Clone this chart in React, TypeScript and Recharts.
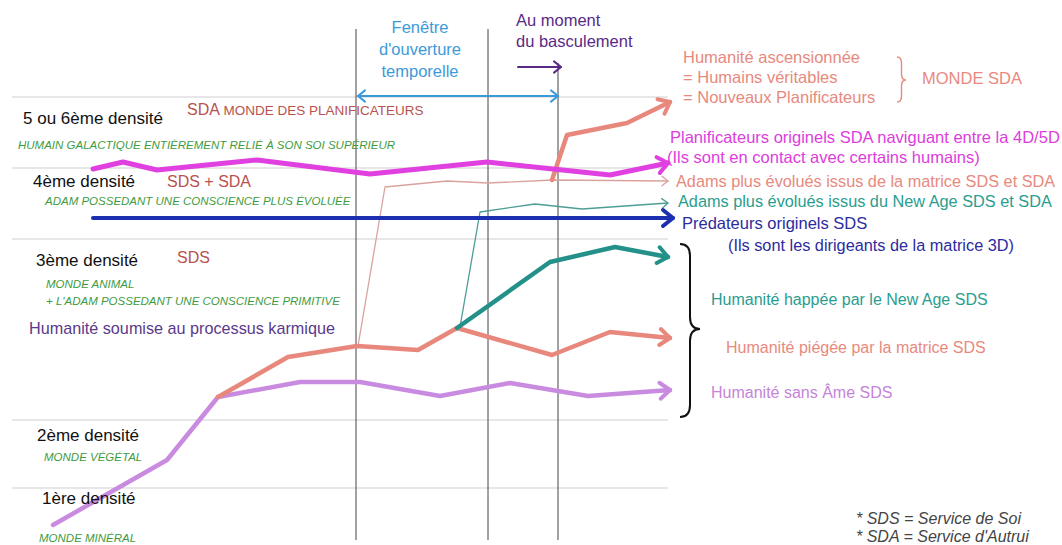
import { LineChart, Line, XAxis, YAxis, ReferenceLine } from 'recharts'

// horizontal axis: time (left -> right), vertical axis: level of consciousness (bottom -> top)
const humaniteSansAme = [
  { t: 53, n: 20 }, { t: 167, n: 85 }, { t: 218, n: 148 }, { t: 300, n: 163 }, { t: 360, n: 163 },
  { t: 440, n: 149 }, { t: 510, n: 162 }, { t: 588, n: 149 }, { t: 670, n: 155 },
]
const humanitePiegee = [
  { t: 218, n: 148 }, { t: 288, n: 188 }, { t: 357, n: 199 }, { t: 418, n: 195 }, { t: 457, n: 217 },
  { t: 552, n: 190 }, { t: 610, n: 213 }, { t: 670, n: 207 },
]
const humaniteNewAge = [
  { t: 457, n: 217 }, { t: 550, n: 283 }, { t: 615, n: 298 }, { t: 668, n: 288 },
]
const adamsNewAge = [
  { t: 460, n: 218 }, { t: 480, n: 333 }, { t: 535, n: 341 }, { t: 582, n: 336 }, { t: 668, n: 342 },
]
const adamsMatrice = [
  { t: 358, n: 199 }, { t: 385, n: 358 }, { t: 447, n: 364 }, { t: 488, n: 362 }, { t: 553, n: 365 }, { t: 668, n: 364 },
]
const humaniteAscensionnee = [
  { t: 552, n: 365 }, { t: 567, n: 410 }, { t: 627, n: 422 }, { t: 670, n: 443 },
]
const planificateurs = [
  { t: 93, n: 376 }, { t: 123, n: 383 }, { t: 157, n: 375 }, { t: 257, n: 385 }, { t: 370, n: 371 },
  { t: 487, n: 383 }, { t: 553, n: 376 }, { t: 610, n: 370 }, { t: 668, n: 382 },
]
const predateurs = [{ t: 93, n: 327 }, { t: 673, n: 327 }]

const fenetre = [{ t: 358, n: 449 }, { t: 558, n: 449 }]
const basculement = [{ t: 518, n: 478 }, { t: 561, n: 478 }]

// density boundaries and time markers
const densityLevels = [448, 377, 306, 125, 57]
const timeMarks = [356, 488]
const basculementT = 558

const FONT = '"Liberation Sans", Arial, Helvetica, sans-serif'

const arrows = [
  { id: 'a-violet', color: '#c98be0', w: 4, s: 1 },
  { id: 'a-salmon', color: '#e8877c', w: 4, s: 1 },
  { id: 'a-teal', color: '#23918a', w: 4, s: 1 },
  { id: 'a-magenta', color: '#e040e0', w: 4, s: 1 },
  { id: 'a-blue', color: '#1b2fb0', w: 4, s: 1 },
  { id: 'a-thinsalmon', color: '#d9a39d', w: 1.3, s: 0.6 },
  { id: 'a-thinteal', color: '#4c9e96', w: 1.3, s: 0.6 },
  { id: 'a-sky', color: '#3d9ad9', w: 2, s: 0.7 },
  { id: 'a-purple', color: '#5b2a86', w: 2, s: 0.7 },
]

function Brace({ x0, w, y0, y1, ym, r, color, sw }: any) {
  const xm = x0 + w / 2
  const d = `M${x0},${y0} Q${xm},${y0} ${xm},${y0 + r} L${xm},${ym - r} Q${xm},${ym} ${x0 + w},${ym} Q${xm},${ym} ${xm},${ym + r} L${xm},${y1 - r} Q${xm},${y1} ${x0},${y1}`
  return <path d={d} fill="none" stroke={color} strokeWidth={sw} />
}

const green = '#3f9b3f'

function Labels() {
  const t = (x: number, y: number, s: string, color: string, size: number, extra: any = {}) => (
    <text x={x} y={y} fill={color} fontSize={size} fontFamily={FONT} {...extra}>{s}</text>
  )
  const gi = { fontStyle: 'italic' }
  return (
    <svg width={1062} height={545} style={{ position: 'absolute', left: 0, top: 0, pointerEvents: 'none' }}>
      {t(420, 33, 'Fenêtre', '#3d9ad9', 16.5, { textAnchor: 'middle' })}
      {t(420, 55, "d'ouverture", '#3d9ad9', 16.5, { textAnchor: 'middle' })}
      {t(420, 77, 'temporelle', '#3d9ad9', 16.5, { textAnchor: 'middle' })}
      {t(516, 26, 'Au moment', '#5b2a86', 16.5)}
      {t(516, 47, 'du basculement', '#5b2a86', 16.5)}

      {t(23, 124, '5 ou 6ème densité', '#111', 17)}
      <text x={187} y={115} fill="#b8524e" fontFamily={FONT}>
        <tspan fontSize={16}>SDA </tspan>
        <tspan fontSize={13.5}>MONDE DES PLANIFICATEURS</tspan>
      </text>
      {t(18, 149, 'HUMAIN GALACTIQUE ENTIÈREMENT RELIÉ À SON SOI SUPÉRIEUR', green, 11.5, gi)}
      {t(33, 187, '4ème densité', '#111', 17)}
      {t(167, 187, 'SDS + SDA', '#b8524e', 16)}
      {t(45, 205, 'ADAM POSSEDANT UNE CONSCIENCE PLUS ÉVOLUÉE', green, 11.5, gi)}
      {t(36, 266, '3ème densité', '#111', 17)}
      {t(177, 263, 'SDS', '#b8524e', 16)}
      {t(46, 288, 'MONDE ANIMAL', green, 11.5, gi)}
      {t(46, 305, "+ L'ADAM POSSEDANT UNE CONSCIENCE PRIMITIVE", green, 11.5, gi)}
      {t(29, 334, 'Humanité soumise au processus karmique', '#5a3a8a', 16.2)}
      {t(37, 441, '2ème densité', '#111', 17)}
      {t(44, 461, 'MONDE VÉGÉTAL', green, 11.5, gi)}
      {t(42, 504, '1ère densité', '#111', 17)}
      {t(39, 542, 'MONDE MINÉRAL', green, 11.5, gi)}

      {t(683, 63, 'Humanité ascensionnée', '#e8897e', 16.5)}
      {t(683, 83, '= Humains véritables', '#e8897e', 16.5)}
      {t(683, 103, '= Nouveaux Planificateurs', '#e8897e', 16.5)}
      <Brace x0={897} w={9} y0={57} y1={102} ym={80} r={6} color="#e8897e" sw={1.4} />
      {t(922, 84, 'MONDE SDA', '#e8897e', 16.5)}
      {t(670, 143, 'Planificateurs originels SDA naviguant entre la 4D/5D', '#dd3ddd', 16.5)}
      {t(667, 163, '(Ils sont en contact avec certains humains)', '#dd3ddd', 16.5)}
      {t(676, 187, 'Adams plus évolués issus de la matrice SDS et SDA', '#e8897e', 16.3)}
      {t(678, 207, 'Adams plus évolués issus du New Age SDS et SDA', '#2a9d8f', 16.3)}
      {t(682, 229, 'Prédateurs originels SDS', '#2b2b9e', 16.5)}
      {t(728, 251, '(Ils sont les dirigeants de la matrice 3D)', '#2b2b9e', 16.3)}
      <Brace x0={680} w={20} y0={244} y1={417} ym={329} r={12} color="#111" sw={2} />
      {t(711, 305, 'Humanité happée par le New Age SDS', '#2a9d8f', 16)}
      {t(726, 353, 'Humanité piégée par la matrice SDS', '#e8897e', 16)}
      {t(711, 398, 'Humanité sans Âme SDS', '#c584d8', 16)}

      {t(856, 524, '* SDS = Service de Soi', '#444', 16, gi)}
      {t(856, 542, "* SDA = Service d'Autrui", '#444', 16, gi)}
    </svg>
  )
}

export default function App() {
  const line = (data: any[], color: string, width: number, marker?: string, start?: string) => (
    <Line
      data={data}
      dataKey="n"
      type="linear"
      stroke={color}
      strokeWidth={width}
      strokeLinejoin="round"
      strokeLinecap="round"
      dot={false}
      activeDot={false}
      isAnimationActive={false}
      markerEnd={marker ? `url(#${marker})` : undefined}
      markerStart={start ? `url(#${start})` : undefined}
    />
  )
  return (
    <div style={{ position: 'relative', width: 1062, height: 545, background: '#fff' }}>
      <style>{'body{margin:0;background:#fff}'}</style>
      <svg width={0} height={0} style={{ position: 'absolute' }}>
        <defs>
          {arrows.map((a) => (
            <marker key={a.id} id={a.id} viewBox="-4 -4 24 28" refX={13} refY={10}
              markerWidth={24 * a.s} markerHeight={28 * a.s} markerUnits="userSpaceOnUse" orient="auto-start-reverse">
              <path d="M3,2 L13,10 L3,18" fill="none" stroke={a.color} strokeWidth={a.w / a.s}
                strokeLinecap="round" strokeLinejoin="round" />
            </marker>
          ))}
        </defs>
      </svg>
      <LineChart width={1062} height={545} margin={{ top: 0, right: 0, bottom: 0, left: 0 }}>
        <XAxis type="number" dataKey="t" domain={[0, 1062]} hide allowDataOverflow />
        <YAxis type="number" dataKey="n" domain={[0, 545]} hide allowDataOverflow />
        {densityLevels.map((lv) => (
          <ReferenceLine key={lv} segment={[{ x: 12, y: lv }, { x: 668, y: lv }]} stroke="#cfcfcf" strokeWidth={1} />
        ))}
        {timeMarks.map((tm) => (
          <ReferenceLine key={tm} segment={[{ x: tm, y: 516 }, { x: tm, y: 5 }]} stroke="#444" strokeWidth={1} />
        ))}
        <ReferenceLine segment={[{ x: basculementT, y: 482 }, { x: basculementT, y: 5 }]} stroke="#444" strokeWidth={1} />
        {line(fenetre, '#3d9ad9', 2, 'a-sky', 'a-sky')}
        {line(basculement, '#5b2a86', 2, 'a-purple')}
        {line(adamsMatrice, '#d9a39d', 1.3, 'a-thinsalmon')}
        {line(adamsNewAge, '#4c9e96', 1.3, 'a-thinteal')}
        {line(predateurs, '#1b2fb0', 4, 'a-blue')}
        {line(humaniteSansAme, '#c98be0', 4.5, 'a-violet')}
        {line(humanitePiegee, '#e8877c', 4.5, 'a-salmon')}
        {line(humaniteNewAge, '#23918a', 4.5, 'a-teal')}
        {line(humaniteAscensionnee, '#e8877c', 4.5, 'a-salmon')}
        {line(planificateurs, '#e040e0', 5, 'a-magenta')}
      </LineChart>
      <Labels />
    </div>
  )
}
